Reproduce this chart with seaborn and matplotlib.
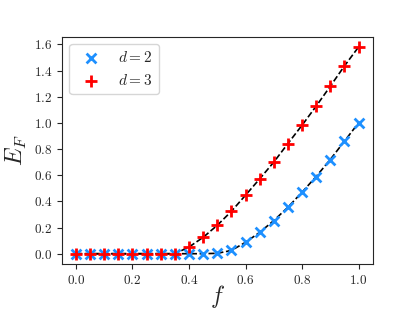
import numpy as np
import seaborn as sns
import matplotlib.pyplot as plt

# data
f = [0.0, 0.05, 0.1, 0.15, 0.2, 0.25, 0.3, 0.35, 0.4, 0.45, 0.5,
     0.55, 0.6, 0.65, 0.7, 0.75, 0.8, 0.85, 0.9, 0.95, 1.0]
e_d2 = [0, 0, 0, 0, 0, 0, 0, 0, 0, 0, 0.003,
        0.025, 0.087, 0.163, 0.253, 0.355, 0.47, 0.59, 0.72, 0.86, 1.0]
e_d3 = [0, 0, 0, 0, 0, 0, 0, 0, 0.051, 0.125, 0.217,
        0.324, 0.447, 0.572, 0.70, 0.842, 0.982, 1.128, 1.28, 1.435, 1.58]

sns.set_style("ticks")
plt.rcParams["font.family"] = "serif"
plt.rcParams["font.serif"] = ["cmr10", "DejaVu Serif"]
plt.rcParams["mathtext.fontset"] = "cm"
plt.rcParams["axes.formatter.use_mathtext"] = True

fig = plt.figure(figsize=(4.15, 3.11), dpi=100)
ax = fig.add_axes([0.149, 0.151, 0.749, 0.731])

sns.lineplot(x=f, y=e_d2, ax=ax, color="black", linestyle="--", linewidth=1.2)
sns.lineplot(x=f, y=e_d3, ax=ax, color="black", linestyle="--", linewidth=1.2)
sns.scatterplot(x=f, y=e_d2, ax=ax, marker="x", color="#1E90FF", s=50,
                linewidth=2, label="$d=2$", zorder=3)
sns.scatterplot(x=f, y=e_d3, ax=ax, marker="+", color="red", s=65,
                linewidth=2, label="$d=3$", zorder=4)

ax.set_xticks(np.arange(0, 1.01, 0.2))
ax.set_yticks(np.arange(0, 1.61, 0.2))
ax.tick_params(labelsize=9.5)
ax.set_xlabel("$f$", fontsize=17, labelpad=-3)
ax.set_ylabel("$E_F$", fontsize=17, labelpad=3)
ax.legend(loc="upper left", fontsize=11)

fig.savefig("out.png", dpi=100)
